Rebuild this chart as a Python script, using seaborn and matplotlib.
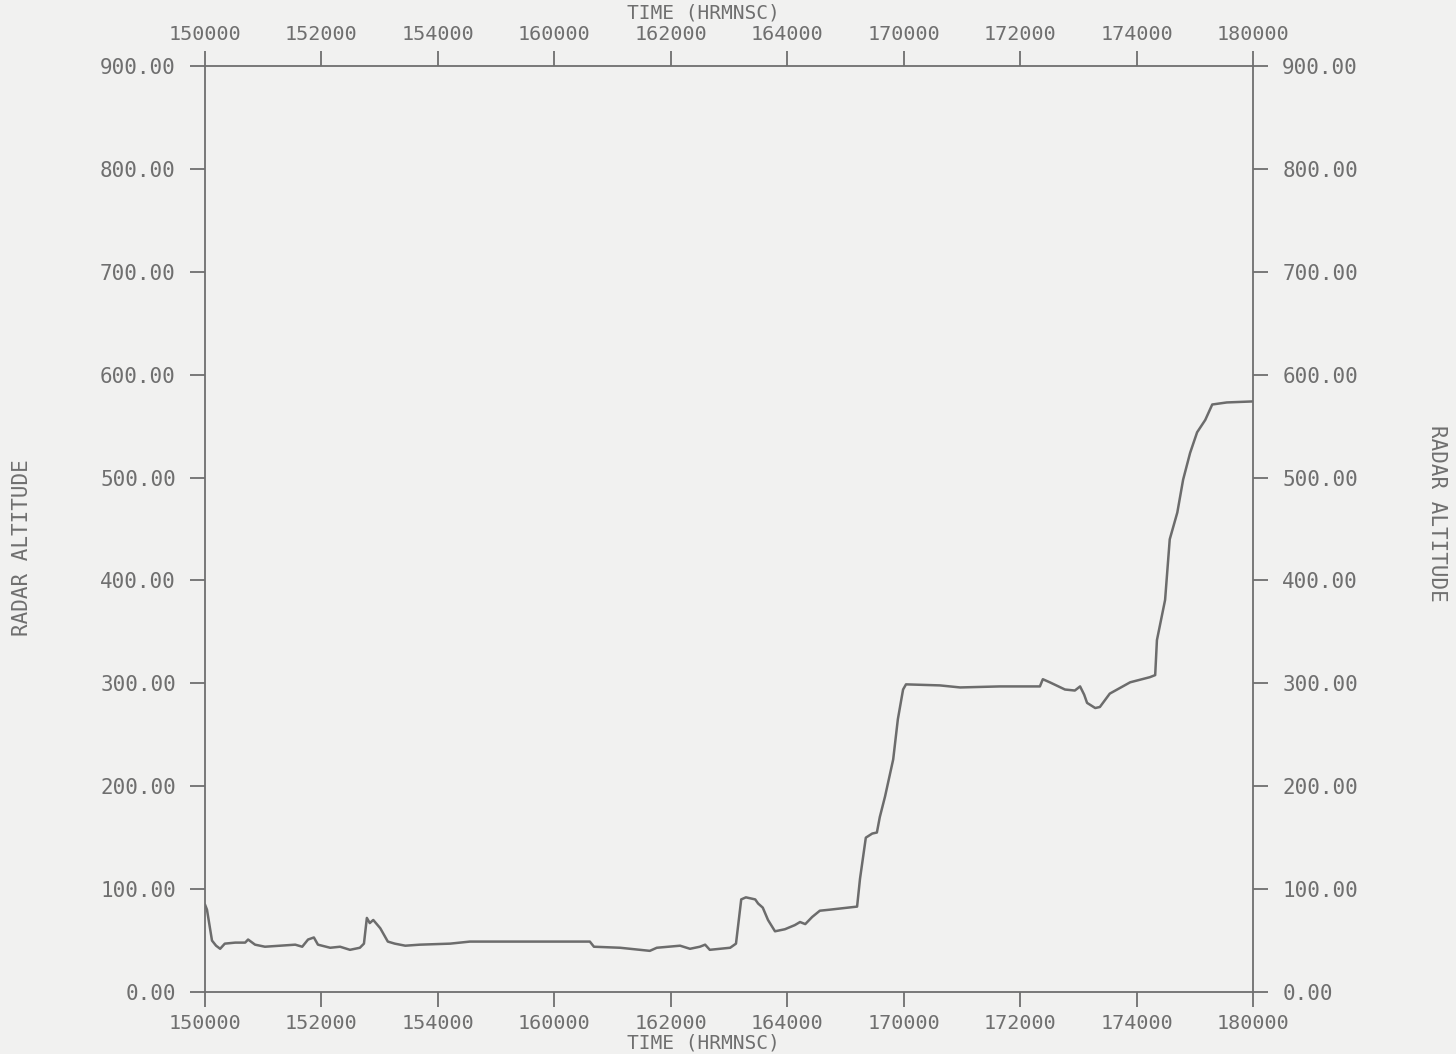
import matplotlib
matplotlib.use("Agg")
import matplotlib.pyplot as plt
import numpy as np
import pandas as pd
import seaborn as sns

# time in minutes after 15:00:00, radar altitude
minutes = [0.0, 0.34, 1.2, 1.9, 2.6, 3.4, 5.2, 6.9, 7.4, 8.6, 10.3, 12.9, 15.5, 16.7,
           17.7, 18.7, 19.4, 21.5, 23.2, 24.9, 26.6, 27.3, 27.8, 28.3, 28.9, 30.1,
           31.4, 32.6, 34.4, 36.9, 42.1, 45.5, 54.1, 66.1, 66.8, 71.3, 76.4, 77.6,
           81.6, 83.3, 85.0, 85.9, 86.7, 90.2, 91.2, 92.1, 92.9, 94.5, 95.0, 95.8,
           96.7, 97.9, 99.6, 101.3, 102.2, 103.1, 104.3, 105.6, 107.3, 112.0, 112.5,
           113.5, 114.6, 115.4, 115.9, 116.8, 118.2, 119.0, 119.9, 120.4, 126.2,
           129.7, 136.5, 143.4, 143.9, 145.1, 147.7, 149.4, 150.3, 151.0, 151.5,
           152.9, 153.7, 155.4, 158.9, 162.3, 163.2, 163.5, 164.9, 165.7, 167.0,
           168.0, 169.2, 170.4, 171.8, 173.0, 175.5, 180.0]
altitude = [85, 80, 50, 45, 42, 47, 48, 48, 51, 46, 44, 45, 46, 44,
            51, 53, 46, 43, 44, 41, 43, 47, 72, 67, 70, 62,
            49, 47, 45, 46, 47, 49, 49, 49, 44, 43, 40, 43,
            45, 42, 44, 46, 41, 43, 47, 90, 92, 90, 86, 82,
            70, 59, 61, 65, 68, 66, 73, 79, 80, 83, 110,
            150, 154, 155, 170, 190, 226, 265, 294, 299, 298,
            296, 297, 297, 304, 301, 294, 293, 297, 289, 281,
            276, 277, 290, 301, 306, 308, 342, 381, 440, 466,
            498, 524, 544, 556, 571, 573, 574]

time_ticks = [0, 20, 40, 60, 80, 100, 120, 140, 160, 180]
time_labels = ["150000", "152000", "154000", "160000", "162000",
               "164000", "170000", "172000", "174000", "180000"]
alt_ticks = [0, 100, 200, 300, 400, 500, 600, 700, 800, 900]

df = pd.DataFrame({"minutes": minutes, "altitude": altitude})

ink = "#6f6f6f"
paper = "#f1f1f0"

sns.set_theme(style="ticks")
plt.rcParams["font.family"] = ["DejaVu Sans Mono", "DejaVu Sans"]

fig = plt.figure(figsize=(14.56, 10.54), dpi=100, facecolor=paper)
ax = fig.add_axes([205 / 1456, 1 - 992 / 1054, 1048 / 1456, 926 / 1054])
ax.set_facecolor(paper)

sns.lineplot(data=df, x="minutes", y="altitude", ax=ax, color="#6c6c6c",
             linewidth=1.8, estimator=None, sort=False)

ax.set_xlim(0, 180)
ax.set_ylim(0, 900)
ax.set_xticks(time_ticks)
ax.set_xticklabels(time_labels)
ax.set_yticks(alt_ticks)
ax.yaxis.set_major_formatter("{x:.2f}")
ax.set_xlabel("")
ax.set_ylabel("")

for s in ax.spines.values():
    s.set_color(ink)
    s.set_linewidth(1.3)

ax.tick_params(axis="both", direction="out", length=11, width=1.3, color=ink,
               labelcolor=ink, labelsize=15, pad=10,
               top=True, labeltop=True, right=True, labelright=True)
ax.tick_params(axis="x", pad=5, labelsize=14.5)

fig.text(703 / 1456, 1 - 13 / 1054, "TIME (HRMNSC)", ha="center", va="center",
         color=ink, fontsize=14)
fig.text(703 / 1456, 1 - 1043 / 1054, "TIME (HRMNSC)", ha="center", va="center",
         color=ink, fontsize=14)
fig.text(22 / 1456, 1 - 548 / 1054, "RADAR ALTITUDE", ha="center", va="center",
         rotation=90, color=ink, fontsize=15)
fig.text(1437 / 1456, 1 - 513 / 1054, "RADAR ALTITUDE", ha="center", va="center",
         rotation=-90, color=ink, fontsize=15)

fig.savefig("out.png", dpi=100, facecolor=paper)
